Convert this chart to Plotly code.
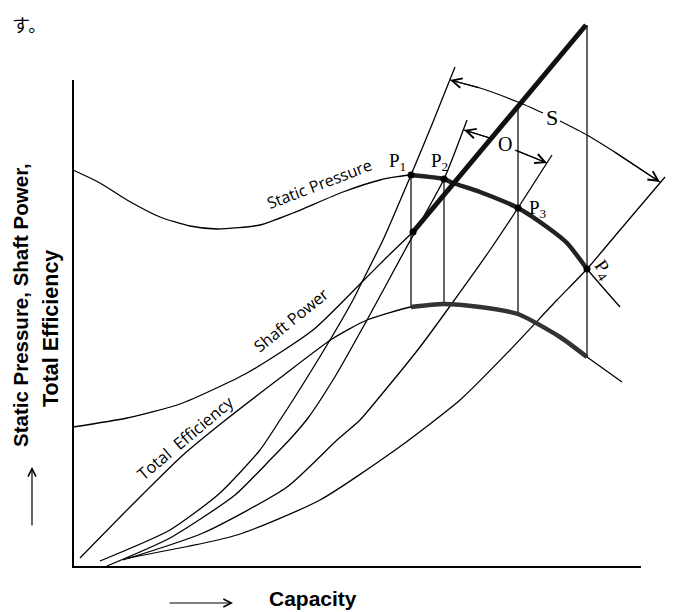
import plotly.graph_objects as go

# ---- data (arbitrary units: capacity on x, quantity on y) ----
sp_x = [0, 27, 54, 87, 117, 144, 187, 220, 270, 307, 338, 371, 380, 407, 445, 474, 494, 514, 547]
sp_y = [397, 384, 367, 350, 341, 338, 342, 354, 375, 387, 392, 388, 384, 375, 359, 340, 324, 298, 260]
sp_thick = (10, 17)  # index range P1..P4

sh_x = [0, 54, 107, 174, 240, 289, 314, 340]
sh_y = [140, 149, 163, 194, 237, 285, 310, 335]
sh_thick_x = [340, 380, 445, 513]
sh_thick_y = [335, 383, 461, 542]

ef_x = [7, 60, 110, 150, 207, 259, 294, 338, 370, 407, 445, 487, 514, 549]
ef_y = [9, 63, 112, 145, 189, 228, 247, 260, 263, 260, 253, 230, 210, 185]
ef_thick = (7, 12)

r1_x = [27, 97, 147, 187, 207, 220, 257, 280, 289, 310, 338, 360, 382]
r1_y = [6, 37, 74, 117, 147, 167, 227, 267, 285, 327, 392, 445, 500]
r2_x = [34, 97, 162, 197, 219, 235, 263, 294, 332, 371, 394]
r2_y = [1, 29, 72, 107, 130, 149, 192, 247, 317, 388, 447]
r3_x = [50, 130, 214, 264, 287, 304, 347, 380, 417, 445, 479]
r3_y = [7, 34, 80, 127, 147, 167, 220, 265, 317, 359, 412]
r4_x = [55, 164, 247, 325, 387, 437, 484, 514, 547, 592]
r4_y = [9, 32, 67, 119, 167, 217, 267, 298, 337, 390]

vert_x = [338, 371, 445, 514]
vert_top = [392, 388, 461, 542]
vert_bot = [260, 263, 253, 210]

p_x = [338, 371, 445, 514]
p_y = [392, 388, 359, 298]
p_names = ["P<sub>1</sub>", "P<sub>2</sub>", "P<sub>3</sub>", "P<sub>4</sub>"]

s_arc1_x = [377, 407, 445, 470]
s_arc1_y = [487, 479, 465, 454]
s_arc2_x = [487, 514, 540, 587]
s_arc2_y = [446, 432, 416, 385]
o_arc1_x = [391, 420]
o_arc1_y = [437, 428]
o_arc2_x = [442, 474]
o_arc2_y = [417, 404]

axis_len_x = 568
axis_len_y = 487

fig = go.Figure()

def line(x, y, w=1.3, color="black", shape="spline"):
    fig.add_trace(go.Scatter(x=x, y=y, mode="lines",
                             line=dict(color=color, width=w, shape=shape, smoothing=0.6),
                             hoverinfo="skip"))

# axes
line([0, 0, axis_len_x], [axis_len_y, 0, 0], w=2, shape="linear")

# curves
line(sp_x, sp_y)
line(sh_x, sh_y)
line(ef_x, ef_y)
for rx, ry in [(r1_x, r1_y), (r2_x, r2_y), (r3_x, r3_y), (r4_x, r4_y)]:
    line(rx, ry)

# verticals
for vx, vt, vb in zip(vert_x, vert_top, vert_bot):
    line([vx, vx], [vb, vt], w=1.2, shape="linear")

# thick parts
a, b = sp_thick
line(sp_x[a:b + 1], sp_y[a:b + 1], w=4.5, color="#222")
a, b = ef_thick
line(ef_x[a:b + 1], ef_y[a:b + 1], w=4.5, color="#333")
line(sh_thick_x, sh_thick_y, w=5, color="#111", shape="linear")

# S and O arcs
line(s_arc1_x, s_arc1_y, w=1.2)
line(s_arc2_x, s_arc2_y, w=1.2)
line(o_arc1_x, o_arc1_y, w=1.2, shape="linear")
line(o_arc2_x, o_arc2_y, w=1.2, shape="linear")

# points
fig.add_trace(go.Scatter(x=p_x + [sh_thick_x[0]], y=p_y + [sh_thick_y[0]], mode="markers",
                         marker=dict(color="black", size=7), hoverinfo="skip"))

ann = []
def arrow(x, y, ax, ay, size=1.6, head=5, w=1.2):
    ann.append(dict(x=x, y=y, ax=ax, ay=ay, xref="x", yref="y", axref="x", ayref="y",
                    showarrow=True, arrowhead=head, arrowsize=size, arrowwidth=w,
                    arrowcolor="black", text=""))

arrow(s_arc1_x[0], s_arc1_y[0], s_arc1_x[1], s_arc1_y[1])
arrow(s_arc2_x[-1], s_arc2_y[-1], s_arc2_x[-2], s_arc2_y[-2])
arrow(o_arc1_x[0], o_arc1_y[0], o_arc1_x[1], o_arc1_y[1])
arrow(o_arc2_x[-1], o_arc2_y[-1], o_arc2_x[-2], o_arc2_y[-2])

serif = "Liberation Serif, Times New Roman, serif"
sans = "Open Sans, Lato, sans-serif"
bold = "Liberation Sans, Arial, sans-serif"

def text(x, y, t, size=13, fam=sans, angle=0, yanchor="middle", xanchor="center"):
    ann.append(dict(x=x, y=y, xref="x", yref="y", text=t, showarrow=False,
                    textangle=angle, yanchor=yanchor, xanchor=xanchor,
                    font=dict(family=fam, size=size, color="black")))

text(246, 383, "Static Pressure", 16, sans, -21)
text(218, 247, "Shaft Power", 16, sans, -39)
text(112, 130, "Total  Efficiency", 16.5, sans, -40)

p_off = [(-14, 13), (-5, 17), (20, -1), (16, -1)]
for (px, py), n, (dx, dy), ang in zip(zip(p_x, p_y), p_names, p_off, [0, 0, 0, 55]):
    text(px + dx, py + dy, n, 19, serif, ang)

text(479, 450, "S", 22, serif)
text(432, 423, "O", 20, serif)

# axis titles
text(240, -31, "<b>Capacity</b>", 21, bold)
arrow(160, -36, 95, -36, size=1.3, head=5, w=1.2)
text(-53, 262, "<b>Static Pressure, Shaft Power,</b>", 20.5, bold, -90)
text(-22, 238, "<b>Total Efficiency</b>", 21.5, bold, -90)
arrow(-41, 100, -41, 40, size=1.3, head=5, w=1.2)

# japanese fragment at the top of the page
text(-63, 558, "す。", 18, "Noto Sans CJK JP", yanchor="top", xanchor="left")

# the page has an 8px body margin, so the figure is 8px smaller and ranges start 8px in
fig.update_layout(
    width=666, height=604,
    margin=dict(l=0, r=0, t=0, b=0),
    paper_bgcolor="white", plot_bgcolor="white",
    showlegend=False,
    xaxis=dict(range=[-65, 601], visible=False, fixedrange=True),
    yaxis=dict(range=[-45, 559], visible=False, fixedrange=True),
    annotations=ann,
)

fig.write_html("out.html")
